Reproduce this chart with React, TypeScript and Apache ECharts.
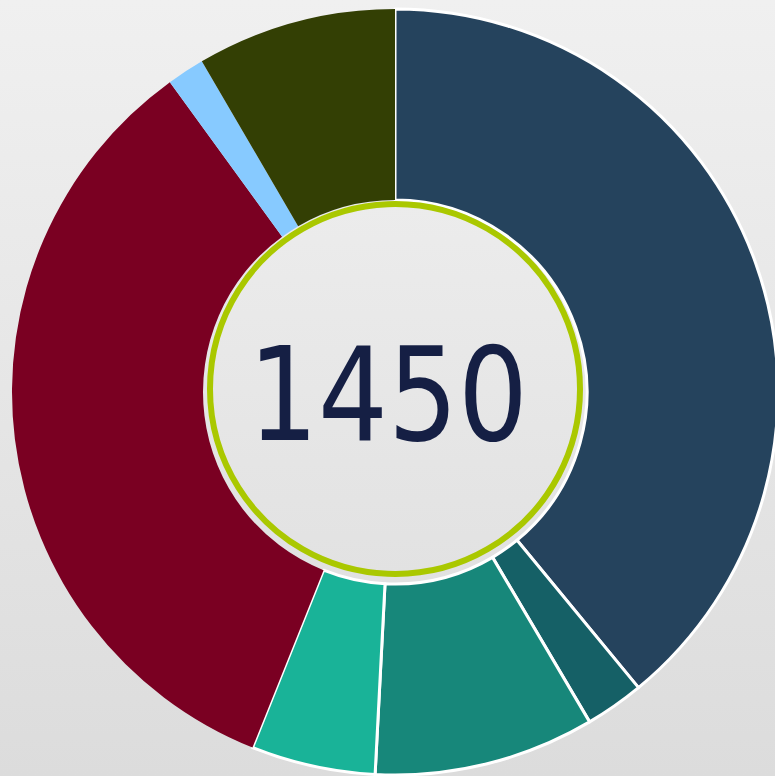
import React, { useEffect, useRef } from "react";
import * as echarts from "echarts";

const categories = ["A", "B", "C", "D", "E", "F", "G"];
const values = [566, 36, 135, 76, 492, 23, 122];
const colors = ["#25435d", "#156066", "#17877a", "#19b398", "#7a0022", "#87caff", "#333f04"];
const bordered = [true, true, true, true, false, false, false];
const totalLabel = String(values.reduce((a, b) => a + b, 0));

export default function App() {
  const ref = useRef<HTMLDivElement>(null);
  useEffect(() => {
    if (!ref.current) return;
    const chart = echarts.init(ref.current, null, { renderer: "svg" });
    chart.setOption({
      animation: false,
      backgroundColor: {
        type: "linear",
        x: 0,
        y: 0,
        x2: 0,
        y2: 1,
        colorStops: [
          { offset: 0, color: "#f0f0f0" },
          { offset: 1, color: "#dcdcdc" },
        ],
      },
      series: [
        {
          type: "pie",
          center: [395, 392],
          radius: [192, 383],
          startAngle: 90,
          clockwise: true,
          label: { show: false },
          labelLine: { show: false },
          emphasis: { disabled: true },
          data: categories.map((name, i) => ({
            name,
            value: values[i],
            itemStyle: {
              color: colors[i],
              borderColor: "#ffffff",
              borderWidth: bordered[i] ? 3 : 0,
            },
          })),
        },
      ],
      graphic: [
        {
          type: "circle",
          z: 100,
          shape: { cx: 395, cy: 389, r: 185 },
          style: {
            fill: {
              type: "linear",
              x: 0,
              y: 0,
              x2: 0,
              y2: 1,
              colorStops: [
                { offset: 0, color: "#ececec" },
                { offset: 1, color: "#e2e2e2" },
              ],
            },
            stroke: "#aac800",
            lineWidth: 6,
          },
        },
        {
          type: "text",
          z: 101,
          x: 388,
          y: 395,
          scaleX: 0.94,
          style: {
            text: totalLabel,
            fill: "#151f44",
            fontSize: 130,
            fontFamily: "DejaVu Sans Condensed",
            align: "center",
            verticalAlign: "middle",
            textAlign: "center",
            textVerticalAlign: "middle",
          },
        },
      ],
    });
    return () => chart.dispose();
  }, []);
  return (
    <div
      ref={ref}
      style={{ position: "absolute", left: 0, top: 0, width: 775, height: 776 }}
    />
  );
}
